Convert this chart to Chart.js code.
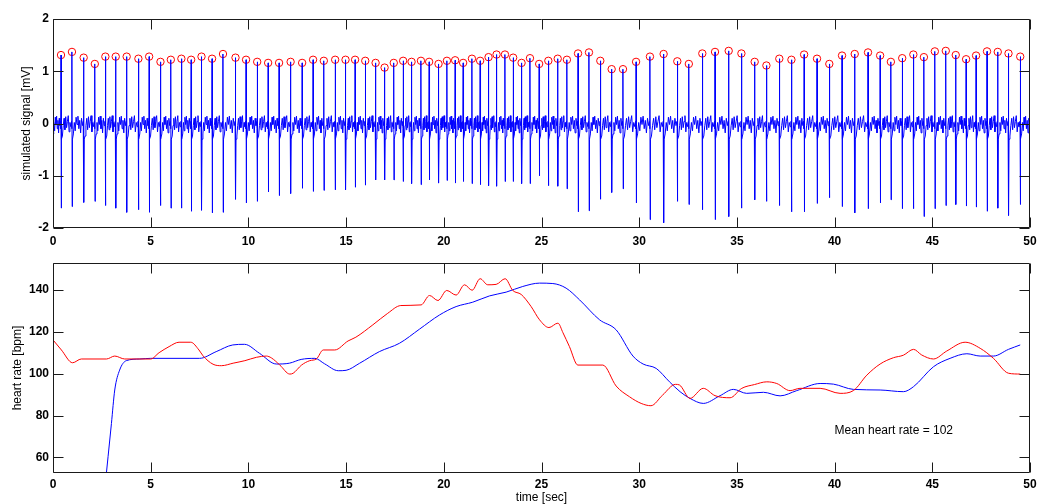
<!DOCTYPE html>
<html>
<head>
<meta charset="utf-8">
<script src="https://cdn.jsdelivr.net/npm/chart.js@4/dist/chart.umd.min.js"></script>
<style>
  body { margin: 0; background: #fff; }
  canvas { position: absolute; left: 0; }
  #ecg { top: 0; }
  #rate { top: 252px; }
</style>
</head>
<body>
<canvas id="ecg" width="1037" height="252"></canvas>
<canvas id="rate" width="1037" height="252"></canvas>
<script>
// detected R peaks: time [sec], R amplitude [mV], S dip [mV]
const beatTimes = [
  0.41, 0.97, 1.57, 2.14, 2.68, 3.21, 3.77, 4.37, 4.92, 5.50,
  6.03, 6.57, 7.07, 7.60, 8.14, 8.70, 9.34, 9.88, 10.45, 11.01,
  11.57, 12.16, 12.75, 13.31, 13.86, 14.44, 14.97, 15.46, 15.98, 16.51,
  16.97, 17.44, 17.92, 18.35, 18.83, 19.25, 19.73, 20.16, 20.58, 20.99,
  21.44, 21.86, 22.29, 22.70, 23.13, 23.55, 23.98, 24.41, 24.88, 25.35,
  25.83, 26.30, 26.87, 27.43, 28.01, 28.59, 29.17, 29.84, 30.55, 31.25,
  31.95, 32.54, 33.23, 33.88, 34.58, 35.23, 35.91, 36.51, 37.17, 37.79,
  38.44, 39.10, 39.73, 40.38, 41.03, 41.71, 42.33, 42.88, 43.46, 44.03,
  44.57, 45.13, 45.69, 46.20, 46.73, 47.24, 47.80, 48.35, 48.90, 49.50
];
const rPeaks = [
  1.31, 1.37, 1.26, 1.14, 1.28, 1.28, 1.28, 1.24, 1.28, 1.18,
  1.22, 1.24, 1.22, 1.28, 1.24, 1.33, 1.26, 1.22, 1.18, 1.16,
  1.16, 1.18, 1.16, 1.22, 1.20, 1.22, 1.22, 1.22, 1.20, 1.16,
  1.07, 1.16, 1.20, 1.18, 1.20, 1.18, 1.14, 1.20, 1.21, 1.16,
  1.24, 1.20, 1.27, 1.32, 1.32, 1.26, 1.16, 1.25, 1.14, 1.20,
  1.24, 1.22, 1.34, 1.36, 1.20, 1.04, 1.04, 1.18, 1.28, 1.33,
  1.19, 1.14, 1.34, 1.37, 1.39, 1.34, 1.18, 1.11, 1.24, 1.22,
  1.32, 1.24, 1.14, 1.30, 1.33, 1.36, 1.30, 1.18, 1.25, 1.32,
  1.27, 1.38, 1.39, 1.31, 1.23, 1.30, 1.38, 1.37, 1.34, 1.28
];
const sDips = [
  -1.62, -1.59, -1.51, -1.49, -1.57, -1.62, -1.70, -1.65, -1.70, -1.57,
  -1.62, -1.62, -1.68, -1.66, -1.71, -1.70, -1.45, -1.52, -1.49, -1.31,
  -1.38, -1.34, -1.24, -1.30, -1.28, -1.27, -1.27, -1.22, -1.18, -1.08,
  -1.08, -1.08, -1.11, -1.15, -1.17, -1.08, -1.14, -1.09, -1.14, -1.11,
  -1.15, -1.17, -1.19, -1.20, -1.11, -1.11, -1.15, -1.15, -1.00, -1.19,
  -1.20, -1.25, -1.69, -1.67, -1.45, -1.32, -1.25, -1.52, -1.84, -1.90,
  -1.49, -1.55, -1.65, -1.84, -1.78, -1.62, -1.46, -1.49, -1.57, -1.69,
  -1.69, -1.53, -1.42, -1.59, -1.71, -1.63, -1.52, -1.46, -1.63, -1.63,
  -1.78, -1.63, -1.57, -1.55, -1.58, -1.60, -1.68, -1.62, -1.76, -1.55
];

// QRS complex around each R peak (offset sec, mV); null slots take R and S
const qrsOffsets = [-0.022, -0.008, 0, 0.012, 0.026];
const qrsLevels = [0.04, -0.10, null, null, -0.30];
// baseline P/T waves and noise between beats, alternating patterns [mV]
const waveA = [-0.24, -0.04, 0.10, -0.12, 0.13, -0.08, 0.04, 0.15, -0.16, 0.02, -0.06];
const waveB = [-0.20, 0.02, -0.14, 0.12, -0.02, 0.14, -0.10, 0.06, -0.18, 0.10, -0.04];

// heart rate traces [bpm]
const rawRateTime = [
  0, 0.43, 1.0, 1.45, 2.74, 3.16, 3.67, 5.0, 5.43, 5.94, 6.45, 7.05, 7.47, 7.68, 8.19, 8.62,
  9.22, 9.82, 10.41, 10.92, 11.18, 11.61, 12.12, 12.29, 12.72, 13.14, 13.48, 13.83, 14.42, 15.1,
  15.5, 16.37, 17.13, 17.8, 18.84, 19.27, 19.7, 20.15, 20.63, 21.06, 21.45, 21.86, 22.25, 22.68,
  23.14, 23.53, 23.96, 24.47, 24.9, 25.38, 25.84, 26.1, 26.43, 26.86, 28.14, 28.82, 29.5, 30.1,
  30.6, 31.2, 31.86, 32.06, 32.6, 33.28, 33.88, 34.65, 35.25, 35.9, 36.53, 37.04, 37.72, 38.23,
  39.26, 40.28, 40.96, 41.65, 42.33, 43.01, 43.52, 44.04, 44.46, 45.06, 45.74, 46.68, 47.45,
  48.13, 48.9, 49.5
];
const rawRate = [
  116.1, 111.3, 105.2, 107.0, 107.0, 108.4, 107.0, 107.0, 110.0, 112.9, 115.0, 115.0, 111.3, 108.5, 104.5, 103.8,
  105.0, 106.2, 107.8, 108.4, 107.5, 104.1, 99.8, 100.2, 104.1, 106.2, 107.0, 111.3, 111.3, 115.6,
  117.4, 123.3, 128.8, 132.5, 132.8, 137.3, 134.9, 139.7, 137.5, 142.4, 139.8, 145.3, 142.4, 142.6,
  145.3, 139.7, 137.8, 132.0, 125.7, 122.0, 124.1, 119.5, 112.9, 104.1, 104.1, 94.1, 89.0, 85.8,
  84.7, 89.8, 94.9, 94.6, 88.2, 93.0, 89.5, 88.5, 93.0, 94.8, 96.1, 95.3, 91.9, 93.0,
  93.0, 90.6, 91.9, 99.3, 104.6, 107.6, 108.8, 111.6, 108.9, 107.0, 110.8, 115.0, 112.1,
  107.3, 100.2, 99.8
];
const smoothRateTime = [
  2.65, 2.99, 3.16, 3.41, 3.75, 4.44, 5.0, 7.5, 8.35, 9.2, 9.8, 10.57, 11.43, 12.1, 12.7, 13.4,
  13.9, 14.6, 15.0, 15.68, 16.7, 17.73, 18.75, 19.78, 20.63, 21.48, 22.34, 23.19, 24.04, 24.9,
  25.58, 26.26, 26.95, 27.97, 28.82, 29.68, 30.2, 30.87, 31.55, 32.09, 32.6, 33.28, 34.14, 34.82,
  35.5, 36.36, 37.21, 38.06, 39.26, 39.94, 40.96, 42.33, 43.52, 44.04, 45.06, 45.91, 46.77, 47.45,
  48.13, 48.9, 49.5
];
const smoothRate = [
  45.0, 76.2, 92.2, 101.7, 106.2, 107.0, 107.3, 107.3, 110.5, 113.7, 114.0, 109.7, 104.6, 105.0, 106.8, 107.3,
  104.7, 101.4, 101.6, 104.9, 110.5, 114.5, 121.2, 128.0, 132.0, 134.1, 137.1, 138.9, 141.6, 143.2,
  143.0, 140.8, 135.2, 125.7, 120.9, 108.4, 104.6, 102.5, 96.1, 91.4, 88.2, 85.8, 89.5, 92.5,
  90.6, 91.1, 89.4, 91.9, 95.3, 95.0, 92.5, 92.2, 91.4, 93.8, 103.3, 107.3, 109.5, 108.4,
  108.4, 111.6, 113.7
];
const meanRate = 102;

const timeTicks = [0, 5, 10, 15, 20, 25, 30, 35, 40, 45, 50];
const mvTicks = [-2, -1, 0, 1, 2];
const bpmTicks = [60, 80, 100, 120, 140];

// assemble the simulated signal from the beat list
const ecgPoints = [];
function addWave(t0, t1, wave) {
  const n = wave.length;
  for (let k = 0; k < n; k++) {
    ecgPoints.push({x: t0 + (k + 0.5) * (t1 - t0) / n, y: wave[k]});
  }
}
ecgPoints.push({x: 0, y: -0.1});
addWave(0, beatTimes[0] - 0.04, waveB);
beatTimes.forEach((t, i) => {
  qrsOffsets.forEach((dt, k) => {
    let v = qrsLevels[k];
    if (k === 2) v = rPeaks[i];
    if (k === 3) v = sDips[i];
    ecgPoints.push({x: t + dt, y: v});
  });
  const next = i + 1 < beatTimes.length ? beatTimes[i + 1] - 0.04 : 50;
  addWave(t + 0.05, next, i % 2 ? waveB : waveA);
});

const peakPoints = beatTimes.map((t, i) => ({x: t, y: rPeaks[i]}));
const rawPoints = rawRateTime.map((t, i) => ({x: t, y: rawRate[i]}));
const smoothPoints = smoothRateTime.map((t, i) => ({x: t, y: smoothRate[i]}));

Chart.defaults.font.family = "'Liberation Sans', Arial, sans-serif";
Chart.defaults.font.size = 12;
Chart.defaults.color = '#000';

// box around the plot with inward ticks on all four sides
const frame = {
  id: 'frame',
  afterDatasetsDraw(chart, args, opts) {
    const {ctx, chartArea: a, scales: {x, y}} = chart;
    const L = Math.round(a.left) + 0.5, R = Math.round(a.right) - 0.5;
    const T = Math.round(a.top) + 0.5, B = Math.round(a.bottom) - 0.5;
    const len = 10;
    ctx.save();
    ctx.strokeStyle = '#1a1a1a';
    ctx.lineWidth = 1;
    ctx.beginPath();
    ctx.rect(L, T, R - L, B - T);
    x.ticks.forEach(tk => {
      const px = Math.round(x.getPixelForValue(tk.value)) + 0.5;
      ctx.moveTo(px, B); ctx.lineTo(px, B - len);
      ctx.moveTo(px, T); ctx.lineTo(px, T + len);
    });
    y.ticks.forEach(tk => {
      const py = Math.round(y.getPixelForValue(tk.value)) + 0.5;
      ctx.moveTo(L, py); ctx.lineTo(L + len, py);
      ctx.moveTo(R, py); ctx.lineTo(R - len, py);
    });
    ctx.stroke();
    if (opts.note) {
      ctx.fillStyle = '#000';
      ctx.font = "12px 'Liberation Sans', Arial, sans-serif";
      ctx.textBaseline = 'middle';
      ctx.textAlign = 'left';
      ctx.fillText(opts.note.text, x.getPixelForValue(opts.note.x), y.getPixelForValue(opts.note.y));
    }
    ctx.restore();
  }
};

function axis(min, max, ticks, size, vertical, extra) {
  return Object.assign({
    type: 'linear', min: min, max: max,
    afterBuildTicks: s => { s.ticks = ticks.map(v => ({value: v})); },
    afterFit: s => {
      if (vertical) { s.width = size; s.paddingTop = 0; s.paddingBottom = 0; }
      else { s.height = size; s.paddingLeft = 0; s.paddingRight = 0; }
    },
    grid: {display: false, drawTicks: false},
    border: {display: false}
  }, extra);
}

const common = {
  responsive: false,
  animation: false,
  events: [],
  plugins: {legend: {display: false}, tooltip: {enabled: false}}
};

new Chart(document.getElementById('ecg'), {
  type: 'line',
  data: {
    datasets: [{
      data: ecgPoints,
      borderColor: '#0000ff',
      borderWidth: 1,
      pointRadius: 0,
      tension: 0
    }, {
      type: 'scatter',
      data: peakPoints,
      pointStyle: 'circle',
      pointRadius: 3.7,
      borderColor: '#ff0000',
      borderWidth: 1,
      backgroundColor: 'rgba(0,0,0,0)'
    }]
  },
  options: Object.assign({}, common, {
    layout: {padding: {top: 19, right: 7, bottom: 0, left: 0}},
    scales: {
      x: axis(0, 50, timeTicks, 24, false, {
        ticks: {padding: 6, font: {weight: 'bold'}}
      }),
      y: axis(-2, 2, mvTicks, 53, true, {
        ticks: {padding: 4, font: {weight: 'bold'}},
        title: {display: true, text: 'simulated signal [mV]', padding: {top: 19, bottom: 0}}
      })
    },
    plugins: Object.assign({}, common.plugins, {frame: {}})
  }),
  plugins: [frame]
});

new Chart(document.getElementById('rate'), {
  type: 'line',
  data: {
    datasets: [{
      data: rawPoints,
      borderColor: '#ff0000',
      borderWidth: 1,
      pointRadius: 0,
      cubicInterpolationMode: 'monotone'
    }, {
      data: smoothPoints,
      borderColor: '#0000ff',
      borderWidth: 1,
      pointRadius: 0,
      cubicInterpolationMode: 'monotone'
    }]
  },
  options: Object.assign({}, common, {
    layout: {padding: {top: 11, right: 7, bottom: 0, left: 0}},
    scales: {
      x: axis(0, 50, timeTicks, 31, false, {
        ticks: {padding: 4, font: {weight: 'bold'}},
        title: {display: true, text: 'time [sec]', padding: 0, font: {lineHeight: 1}}
      }),
      y: axis(52.6, 152.8, bpmTicks, 53, true, {
        ticks: {padding: 4, font: {weight: 'bold'}},
        title: {display: true, text: 'heart rate [bpm]', padding: {top: 10, bottom: 0}}
      })
    },
    plugins: Object.assign({}, common.plugins, {
      frame: {note: {text: 'Mean heart rate = ' + meanRate, x: 40, y: 73}}
    })
  }),
  plugins: [frame]
});
</script>
</body>
</html>
